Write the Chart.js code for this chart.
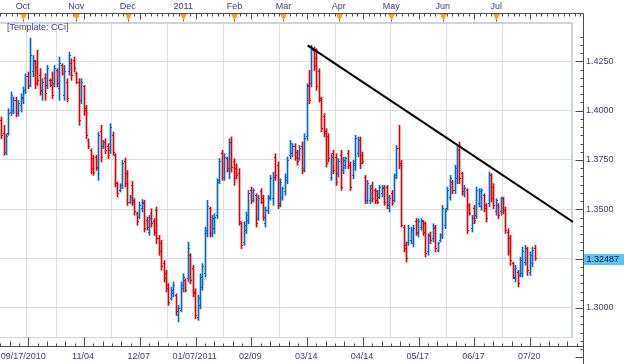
<!DOCTYPE html>
<html><head><meta charset="utf-8">
<script src="https://cdn.jsdelivr.net/npm/chart.js@4.4.0/dist/chart.umd.min.js"></script>
<style>html,body{margin:0;padding:0;background:#fff;overflow:hidden}canvas{display:block}</style>
</head><body>
<canvas id="c" width="624" height="364"></canvas>
<script>
// ---- DATA (daily OHLC bars) ----
const highs = [
1.3968,1.3926,1.3883,1.4010,1.4095,1.4069,1.4069,1.4052,1.4086,1.4120,
1.4187,1.4196,1.4368,1.4280,1.4255,1.4306,1.4213,1.4162,1.4187,1.4230,
1.4162,1.4196,1.4230,1.4213,1.4272,1.4238,1.4230,1.4162,1.4297,1.4263,
1.4272,1.4196,1.4162,1.4162,1.4128,1.4027,1.3858,1.3807,1.3774,1.3774,
1.3892,1.3926,1.3850,1.3858,1.3833,1.3934,1.3892,1.3782,1.3638,1.3630,
1.3748,1.3760,1.3697,1.3571,1.3642,1.3554,1.3487,1.3537,1.3550,1.3546,
1.3461,1.3470,1.3503,1.3453,1.3512,1.3368,1.3343,1.3241,1.3191,1.3123,
1.3106,1.3132,1.3072,1.3013,1.3132,1.3174,1.3148,1.3334,1.3275,1.3216,
1.3098,1.3064,1.3174,1.3225,1.3410,1.3546,1.3512,1.3470,1.3478,1.3655,
1.3757,1.3799,1.3782,1.3765,1.3858,1.3867,1.3757,1.3731,1.3706,1.3436,
1.3436,1.3487,1.3596,1.3613,1.3605,1.3579,1.3571,1.3605,1.3571,1.3512,
1.3571,1.3672,1.3689,1.3782,1.3740,1.3655,1.3613,1.3680,1.3765,1.3850,
1.3833,1.3833,1.3799,1.3824,1.3841,1.3883,1.4137,1.4204,1.4331,1.4323,
1.4314,1.4213,1.4069,1.3985,1.3909,1.3883,1.3782,1.3799,1.3782,1.3757,
1.3799,1.3765,1.3765,1.3799,1.3740,1.3748,1.3875,1.3867,1.3867,1.3790,
1.3672,1.3647,1.3621,1.3638,1.3605,1.3596,1.3621,1.3621,1.3621,1.3621,
1.3571,1.3596,1.3680,1.3824,1.3926,1.3748,1.3419,1.3334,1.3419,1.3410,
1.3419,1.3453,1.3453,1.3453,1.3444,1.3436,1.3377,1.3385,1.3427,1.3419,
1.3334,1.3377,1.3520,1.3503,1.3613,1.3672,1.3647,1.3723,1.3824,1.3841,
1.3689,1.3621,1.3605,1.3529,1.3470,1.3520,1.3613,1.3605,1.3605,1.3579,
1.3529,1.3689,1.3680,1.3630,1.3554,1.3529,1.3562,1.3562,1.3512,1.3402,
1.3368,1.3233,1.3216,1.3191,1.3258,1.3309,1.3317,1.3309,1.3284,1.3309,1.3317];
const lows = [
1.3858,1.3774,1.3777,1.3875,1.3976,1.3985,1.3968,1.3973,1.3993,1.4035,
1.4086,1.4111,1.4120,1.4171,1.4111,1.4128,1.4078,1.4052,1.4052,1.4111,
1.4120,1.4061,1.4120,1.4120,1.4052,1.4179,1.4052,1.4044,1.4179,1.4154,
1.4196,1.4137,1.3926,1.4035,1.3976,1.3858,1.3807,1.3680,1.3672,1.3697,
1.3647,1.3740,1.3807,1.3782,1.3757,1.3782,1.3774,1.3613,1.3562,1.3588,
1.3605,1.3613,1.3520,1.3529,1.3520,1.3470,1.3419,1.3453,1.3487,1.3385,
1.3394,1.3368,1.3410,1.3368,1.3326,1.3267,1.3191,1.3132,1.3081,1.3013,
1.3039,1.3056,1.2963,1.2929,1.2980,1.3081,1.3081,1.3132,1.3123,1.3056,
1.2946,1.2937,1.2996,1.3089,1.3157,1.3360,1.3360,1.3360,1.3377,1.3453,
1.3630,1.3647,1.3647,1.3689,1.3655,1.3689,1.3621,1.3655,1.3419,1.3301,
1.3317,1.3377,1.3427,1.3529,1.3537,1.3410,1.3444,1.3529,1.3444,1.3410,
1.3478,1.3546,1.3520,1.3647,1.3503,1.3512,1.3546,1.3571,1.3630,1.3757,
1.3765,1.3748,1.3723,1.3748,1.3680,1.3689,1.3850,1.4035,1.4120,1.4204,
1.4103,1.4044,1.3892,1.3867,1.3714,1.3740,1.3647,1.3680,1.3621,1.3663,
1.3596,1.3680,1.3706,1.3706,1.3596,1.3655,1.3697,1.3765,1.3706,1.3731,
1.3529,1.3529,1.3529,1.3537,1.3529,1.3529,1.3554,1.3562,1.3520,1.3503,
1.3487,1.3520,1.3537,1.3655,1.3706,1.3410,1.3284,1.3233,1.3317,1.3326,
1.3309,1.3368,1.3360,1.3394,1.3368,1.3258,1.3267,1.3326,1.3334,1.3284,
1.3284,1.3334,1.3351,1.3402,1.3495,1.3546,1.3579,1.3579,1.3630,1.3630,
1.3571,1.3562,1.3377,1.3470,1.3385,1.3427,1.3453,1.3512,1.3495,1.3487,
1.3436,1.3512,1.3537,1.3503,1.3470,1.3453,1.3470,1.3478,1.3377,1.3267,
1.3216,1.3148,1.3132,1.3106,1.3157,1.3157,1.3216,1.3165,1.3165,1.3208,1.3241];
const opens = [
1.3951,1.3883,1.3790,1.3883,1.3993,1.4002,1.4052,1.3985,1.4027,1.4061,
1.4103,1.4171,1.4128,1.4196,1.4247,1.4221,1.4179,1.4095,1.4162,1.4128,
1.4154,1.4154,1.4137,1.4204,1.4111,1.4230,1.4078,1.4145,1.4196,1.4238,
1.4255,1.4187,1.4145,1.4052,1.4120,1.4010,1.3850,1.3799,1.3757,1.3765,
1.3706,1.3892,1.3816,1.3841,1.3816,1.3799,1.3875,1.3774,1.3630,1.3596,
1.3621,1.3740,1.3680,1.3537,1.3621,1.3546,1.3478,1.3461,1.3503,1.3529,
1.3444,1.3385,1.3478,1.3436,1.3495,1.3351,1.3326,1.3225,1.3174,1.3115,
1.3047,1.3072,1.3064,1.2963,1.2988,1.3098,1.3140,1.3148,1.3267,1.3199,
1.3081,1.2954,1.3013,1.3106,1.3174,1.3377,1.3503,1.3377,1.3402,1.3470,
1.3647,1.3782,1.3663,1.3757,1.3697,1.3841,1.3740,1.3706,1.3680,1.3427,
1.3334,1.3394,1.3444,1.3596,1.3546,1.3571,1.3453,1.3588,1.3554,1.3427,
1.3495,1.3562,1.3554,1.3765,1.3723,1.3529,1.3562,1.3588,1.3647,1.3774,
1.3782,1.3816,1.3790,1.3757,1.3816,1.3706,1.3867,1.4128,1.4137,1.4306,
1.4263,1.4196,1.4052,1.3968,1.3892,1.3867,1.3663,1.3782,1.3765,1.3680,
1.3774,1.3697,1.3723,1.3782,1.3723,1.3672,1.3723,1.3782,1.3850,1.3774,
1.3663,1.3546,1.3546,1.3621,1.3596,1.3588,1.3562,1.3579,1.3605,1.3613,
1.3503,1.3579,1.3546,1.3672,1.3807,1.3731,1.3410,1.3317,1.3334,1.3343,
1.3326,1.3436,1.3377,1.3410,1.3436,1.3427,1.3284,1.3368,1.3351,1.3402,
1.3292,1.3343,1.3368,1.3419,1.3503,1.3562,1.3638,1.3596,1.3655,1.3799,
1.3680,1.3579,1.3596,1.3520,1.3402,1.3503,1.3470,1.3529,1.3512,1.3571,
1.3520,1.3529,1.3672,1.3613,1.3487,1.3520,1.3487,1.3554,1.3495,1.3385,
1.3351,1.3225,1.3148,1.3182,1.3165,1.3174,1.3233,1.3301,1.3182,1.3225,1.3301];
const closes = [
1.3875,1.3790,1.3867,1.3985,1.4078,1.4052,1.3985,1.4035,1.4069,1.4103,
1.4171,1.4128,1.4280,1.4255,1.4137,1.4154,1.4103,1.4145,1.4086,1.4213,
1.4128,1.4078,1.4213,1.4137,1.4238,1.4187,1.4196,1.4061,1.4280,1.4179,
1.4213,1.4145,1.3951,1.4145,1.4002,1.3875,1.3816,1.3706,1.3689,1.3714,
1.3875,1.3765,1.3841,1.3799,1.3774,1.3917,1.3790,1.3630,1.3579,1.3621,
1.3731,1.3630,1.3537,1.3562,1.3537,1.3487,1.3436,1.3520,1.3537,1.3402,
1.3410,1.3453,1.3427,1.3385,1.3351,1.3284,1.3208,1.3148,1.3098,1.3030,
1.3089,1.3115,1.2980,1.2996,1.3115,1.3157,1.3089,1.3301,1.3140,1.3072,
1.2963,1.3047,1.3157,1.3208,1.3394,1.3512,1.3377,1.3453,1.3461,1.3638,
1.3740,1.3663,1.3765,1.3706,1.3841,1.3714,1.3655,1.3672,1.3436,1.3317,
1.3419,1.3470,1.3579,1.3546,1.3596,1.3427,1.3554,1.3537,1.3461,1.3495,
1.3554,1.3655,1.3663,1.3672,1.3520,1.3638,1.3605,1.3663,1.3748,1.3833,
1.3816,1.3765,1.3740,1.3807,1.3697,1.3858,1.4120,1.4052,1.4306,1.4230,
1.4120,1.4061,1.3909,1.3883,1.3731,1.3757,1.3765,1.3697,1.3638,1.3740,
1.3613,1.3748,1.3757,1.3723,1.3613,1.3731,1.3858,1.3850,1.3731,1.3740,
1.3546,1.3630,1.3605,1.3554,1.3546,1.3537,1.3613,1.3613,1.3537,1.3520,
1.3554,1.3529,1.3663,1.3807,1.3723,1.3419,1.3301,1.3250,1.3402,1.3394,
1.3402,1.3385,1.3436,1.3444,1.3385,1.3275,1.3360,1.3343,1.3410,1.3301,
1.3326,1.3368,1.3503,1.3487,1.3596,1.3655,1.3596,1.3706,1.3799,1.3655,
1.3588,1.3605,1.3394,1.3478,1.3453,1.3444,1.3596,1.3588,1.3596,1.3503,
1.3453,1.3672,1.3554,1.3520,1.3546,1.3470,1.3554,1.3495,1.3394,1.3284,
1.3241,1.3157,1.3199,1.3123,1.3241,1.3284,1.3301,1.3191,1.3267,1.3292,1.32487];

const bottomTickLabels = ['09/17/2010','11/04','12/07','01/07/2011','02/09','03/14','04/14','05/17','06/17','07/20'];
const bottomTickBars   = [0,34,57,80,103,126,149,172,195,218];
const gridBars         = [11,34,57,80,103,126,149,172,195,218];
const monthLabels = ['Oct','Nov','Dec','2011','Feb','Mar','Apr','May','Jun','Jul'];
const monthBars   = [8.7,30.8,52.0,74.9,96.0,116.2,139.0,160.7,181.9,204.0];
const priceTicks  = [1.300,1.325,1.350,1.375,1.400,1.425];
const priceTickLabels = ['1.3000','','1.3500','1.3750','1.4000','1.4250'];
const trendBars   = [126.2, 235.63];
const trendPrices = [1.4331, 1.3436];
const templateLabel = '[Template: CCi]';

// ---- STYLE ----
const UP = '#0066cc', DN = '#dd0000';
const TXT = '#3a3a7a';
const AXIS = '#4a4a4a';
const GRID = '#dedede';
const FRAME = '#c6d3e0';
const FAMILY = '"Liberation Sans", Arial, sans-serif';
const X_MIN = -0.66, X_MAX = 235.63, Y_MIN = 1.2853, Y_MAX = 1.44493;
const FIRST_LABEL_VALUE = 9.3; // 09/17/2010 label is left-aligned to the first bar
const barColors = closes.map((c, i) => c >= opens[i] ? UP : DN);

const noPad = s => { s.paddingLeft = 0; s.paddingRight = 0; s.paddingTop = 0; s.paddingBottom = 0; };

const ohlcPlugin = {
  id: 'ohlc',
  beforeDatasetDraw(chart, args) {
    if (args.index !== 1) return;
    args.meta.data.forEach(el => { el.x = Math.floor(el.x) + 0.5; });
  },
  afterDatasetDraw(chart, args) {
    if (args.index !== 1) return;
    const ctx = chart.ctx, ys = chart.scales.y;
    ctx.save();
    args.meta.data.forEach((el, i) => {
      const x = Math.floor(el.x);
      ctx.fillStyle = barColors[i];
      ctx.fillRect(x - 1, Math.floor(ys.getPixelForValue(opens[i])), 1, 1);
      ctx.fillRect(x + 1, Math.floor(ys.getPixelForValue(closes[i])), 1, 1);
    });
    ctx.restore();
  }
};

const framePlugin = {
  id: 'frame',
  beforeDatasetsDraw(chart) {
    const ctx = chart.ctx, a = chart.chartArea;
    ctx.save();
    ctx.strokeStyle = FRAME; ctx.lineWidth = 2;
    ctx.beginPath();
    ctx.moveTo(a.left, a.top + 1); ctx.lineTo(a.right - 1, a.top + 1);
    ctx.lineTo(a.right - 1, a.bottom);
    ctx.stroke();
    ctx.lineWidth = 1; ctx.strokeStyle = '#d4d4d4';
    ctx.beginPath(); ctx.moveTo(a.left, a.bottom + 0.5); ctx.lineTo(a.right, a.bottom + 0.5); ctx.stroke();
    ctx.restore();
  }
};

const decoPlugin = {
  id: 'deco',
  afterDraw(chart) {
    const ctx = chart.ctx, xs = chart.scales.x, ys = chart.scales.y, a = chart.chartArea;
    const axX = a.right + 10.5, topY = 13.5, botY = 346.5;
    ctx.save();
    ctx.strokeStyle = AXIS; ctx.lineWidth = 1;
    ctx.beginPath();
    ctx.moveTo(0, topY); ctx.lineTo(axX, topY);
    ctx.moveTo(axX, topY); ctx.lineTo(axX, 364);
    ctx.moveTo(0, botY); ctx.lineTo(axX, botY);
    for (let k = -5; k < 120; k++) {
      const v = gridBars[0] + k * 2.3;
      const px = Math.round(xs.getPixelForValue(v)) + 0.5;
      if (px < 0 || px > axX) continue;
      const len = (k % 10 === 0) ? 6 : 3;
      ctx.moveTo(px, topY); ctx.lineTo(px, topY + len);
    }
    for (let k = -3; k < 80; k++) {
      const v = gridBars[0] + k * 23 / 6;
      const px = Math.round(xs.getPixelForValue(v)) + 0.5;
      if (px < 0 || px > axX) continue;
      const len = (k % 6 === 0) ? 9 : (k % 2 === 0 ? 5 : 3);
      ctx.moveTo(px, botY); ctx.lineTo(px, botY - len);
    }
    for (let k = 0; k < 40; k++) {
      const v = 1.275 + k * 0.025 / 6;
      const py = Math.round(ys.getPixelForValue(v)) + 0.5;
      if (py < topY || py > 364) continue;
      const len = (k % 6 === 0) ? 8 : 3;
      ctx.moveTo(axX, py); ctx.lineTo(axX - len, py);
    }
    monthBars.forEach(v => {
      const px = Math.round(xs.getPixelForValue(v)) + 0.5;
      ctx.moveTo(px, topY); ctx.lineTo(px, topY + 8);
    });
    ctx.stroke();
    ctx.fillStyle = '#f5a31a';
    monthBars.forEach(v => {
      const px = Math.round(xs.getPixelForValue(v)) + 0.5;
      ctx.beginPath();
      ctx.moveTo(px - 3.5, topY + 0.5); ctx.lineTo(px + 3.5, topY + 0.5); ctx.lineTo(px, topY + 7);
      ctx.closePath(); ctx.fill();
    });
    ctx.font = '9px ' + FAMILY;
    ctx.fillStyle = TXT; ctx.textBaseline = 'middle'; ctx.textAlign = 'left';
    ctx.fillText(templateLabel, 7, 28);
    const last = closes[closes.length - 1];
    const py = ys.getPixelForValue(last);
    ctx.fillStyle = '#5cc3f5';
    ctx.fillRect(axX + 0.5, Math.round(py) - 5, 624 - axX, 11);
    ctx.fillStyle = '#10104a';
    ctx.fillText(last.toFixed(5), axX + 3, Math.round(py) + 0.5);
    ctx.restore();
  }
};

new Chart(document.getElementById('c'), {
  data: {
    datasets: [
      {
        type: 'line',
        data: trendBars.map((b, i) => ({ x: b, y: trendPrices[i] })),
        borderColor: '#000', borderWidth: 2, pointRadius: 0, fill: false,
        xAxisID: 'x', yAxisID: 'y'
      },
      {
        type: 'bar',
        data: highs.map((h, i) => ({ x: i, y: [lows[i], h] })),
        backgroundColor: barColors, borderWidth: 0, barThickness: 1,
        grouped: false, xAxisID: 'x', yAxisID: 'y'
      }
    ]
  },
  options: {
    responsive: false, animation: false, devicePixelRatio: 1,
    layout: { padding: 0 },
    plugins: { legend: { display: false }, tooltip: { enabled: false } },
    scales: {
      x: {
        type: 'linear', position: 'bottom', min: X_MIN, max: X_MAX, offset: false,
        afterFit: s => { s.height = 27; noPad(s); },
        afterBuildTicks: s => {
          s.ticks = [{ value: FIRST_LABEL_VALUE }].concat(gridBars.map(v => ({ value: v })));
        },
        ticks: {
          autoSkip: false, maxRotation: 0, padding: 14, labelOffset: -1,
          color: TXT, font: { family: FAMILY, size: 9 },
          callback: (val, idx) => {
            if (idx === 0) return bottomTickLabels[0];
            const j = bottomTickBars.indexOf(val);
            return j > 0 ? bottomTickLabels[j] : '';
          }
        },
        grid: {
          drawTicks: false,
          color: ctx => (ctx.tick && gridBars.includes(ctx.tick.value)) ? GRID : 'rgba(0,0,0,0)'
        },
        border: { display: false }
      },
      xTop: {
        type: 'linear', position: 'top', min: X_MIN, max: X_MAX, offset: false,
        afterFit: s => { s.height = 22; noPad(s); },
        afterBuildTicks: s => { s.ticks = monthBars.map(v => ({ value: v })); },
        ticks: {
          autoSkip: false, maxRotation: 0, padding: 10,
          color: TXT, font: { family: FAMILY, size: 9 },
          callback: (val, idx) => monthLabels[idx]
        },
        grid: { display: false, drawTicks: false },
        border: { display: false }
      },
      y: {
        type: 'linear', position: 'right', min: Y_MIN, max: Y_MAX,
        afterFit: s => { s.width = 51; noPad(s); },
        afterBuildTicks: s => { s.ticks = priceTicks.map(v => ({ value: v })); },
        ticks: {
          padding: 13, color: TXT, font: { family: FAMILY, size: 9 },
          callback: (val, idx) => priceTickLabels[idx]
        },
        grid: { drawTicks: false, color: GRID },
        border: { display: false }
      }
    }
  },
  plugins: [framePlugin, ohlcPlugin, decoPlugin]
});
</script>
</body></html>
